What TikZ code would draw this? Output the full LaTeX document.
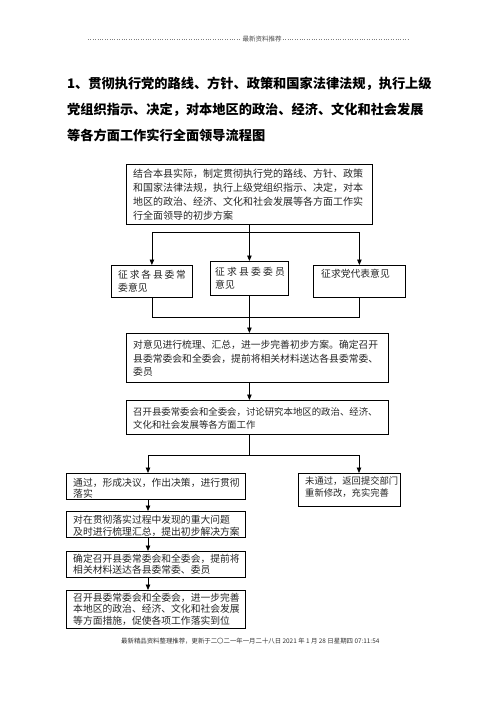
\documentclass[tikz,border=0pt]{standalone}
\usepackage{fontspec}
\setmainfont{Noto Sans CJK SC}
\usetikzlibrary{arrows.meta}
\tikzset{
  boxst/.style={draw=black, line width=0.8pt, inner sep=0pt, anchor=north west, rectangle},
  txtst/.style={anchor=north west, inner sep=0pt, align=left, text=black!85},
  ttlst/.style={anchor=base west, inner sep=0pt, font=\bfseries\fontsize{13.2}{13.2}\selectfont},
  ln/.style={line width=0.8pt, draw=black},
  arr/.style={ln, -{Triangle[length=5.5pt,width=4.5pt]}},
  hdrline/.style={gray, dotted, line width=0.4pt},
}
\newcommand{\mybox}[5]{\node[boxst, minimum width=#4pt, minimum height=#5pt] (#1) at (#2,#3) {};}
\newcommand{\myspc}[1]{\hspace{#1pt}}
\begin{document}
\begin{tikzpicture}[x=1pt,y=-1pt]
\fill[white] (0,0) rectangle (496,702);
\useasboundingbox (0,0) rectangle (496,702);
% header
\node[inner sep=1pt, text=black!70, font=\fontsize{6.5}{6.5}\selectfont] (hdr) at (262,39) {最新资料推荐};
\coordinate (hl) at (88,39);
\coordinate (hr) at (408,39);
\draw[hdrline] (hl) -- (hdr.west);
\draw[hdrline] (hdr.east) -- (hr);
% title
\node[ttlst] (t1) at (67,88) {1、贯彻执行党的路线、方针、政策和国家法律法规，执行上级};
\node[ttlst] (t2) at (67,114) {党组织指示、决定，对本地区的政治、经济、文化和社会发展};
\node[ttlst] (t3) at (67,140) {等各方面工作实行全面领导流程图};
% boxes
\mybox{b1}{126}{164}{246}{60}
\node[txtst, font=\fontsize{10}{14}\selectfont] (b1t) at ([xshift=7pt,yshift=-5pt]b1.north west) {结合本县实际，制定贯彻执行党的路线、方针、政策\\和国家法律法规，执行上级党组织指示、决定，对本\\地区的政治、经济、文化和社会发展等各方面工作实\\行全面领导的初步方案};
\mybox{sa}{111}{265}{81}{32}
\node[txtst, font=\fontsize{9.8}{13}\selectfont] (sat) at ([xshift=7pt,yshift=-5pt]sa.north west) {征\myspc{1.8}求\myspc{1.8}各\myspc{1.8}县\myspc{1.8}委\myspc{1.8}常\\委意见};
\mybox{sb}{210}{261}{78}{34}
\node[txtst, font=\fontsize{9.8}{13}\selectfont] (sbt) at ([xshift=5pt,yshift=-6pt]sb.north west) {征\myspc{2.2}求\myspc{2.2}县\myspc{2.2}委\myspc{2.2}委\myspc{2.2}员\\意见};
\mybox{sc}{313}{265}{92}{32}
\node[txtst, font=\fontsize{9.8}{13}\selectfont] (sct) at ([xshift=8pt,yshift=-4pt]sc.north west) {征求党代表意见};
\mybox{b4}{126}{333}{262}{49}
\node[txtst, font=\fontsize{9.8}{13.5}\selectfont] (b4t) at ([xshift=7pt,yshift=-7pt]b4.north west) {对意见进行梳理、汇总，进一步完善初步方案。确定召开\\县委常委会和全委会，提前将相关材料送达各县委常委、\\委员};
\mybox{b5}{126}{400}{262}{34}
\node[txtst, font=\fontsize{9.4}{13}\selectfont] (b5t) at ([xshift=7pt,yshift=-7pt]b5.north west) {召开县委常委会和全委会，讨论研究本地区的政治、经济、\\文化和社会发展等各方面工作};
\mybox{b6}{66}{473}{179}{26}
\node[txtst, font=\fontsize{9.8}{11.5}\selectfont] (b6t) at ([xshift=7pt,yshift=-5pt]b6.north west) {通过，形成决议，作出决策，进行贯彻\\落实};
\mybox{b7}{298}{473}{102}{33}
\node[txtst, font=\fontsize{9.3}{12.5}\selectfont] (b7t) at ([xshift=7pt,yshift=-3pt]b7.north west) {未通过，返回提交部门\\重新修改，充实完善};
\mybox{b8}{66}{511}{179}{26}
\node[txtst, font=\fontsize{9.8}{11.5}\selectfont] (b8t) at ([xshift=7pt,yshift=-4pt]b8.north west) {对在贯彻落实过程中发现的重大问题\\及时进行梳理汇总，提出初步解决方案};
\mybox{b9}{66}{551}{179}{26}
\node[txtst, font=\fontsize{9.8}{11.5}\selectfont] (b9t) at ([xshift=7pt,yshift=-2.5pt]b9.north west) {确定召开县委常委会和全委会，提前将\\相关材料送达各县委常委、委员};
\mybox{b10}{66}{590}{179}{38}
\node[txtst, font=\fontsize{9.8}{11.5}\selectfont] (b10t) at ([xshift=7pt,yshift=-2.5pt]b10.north west) {召开县委常委会和全委会，进一步完善\\本地区的政治、经济、文化和社会发展\\等方面措施，促使各项工作落实到位};
% footer
\node[anchor=west, inner sep=0pt, text=black!80, font=\fontsize{6.4}{6.4}\selectfont] (ftr) at (121,641) {最新精品资料整理推荐，更新于二〇二一年一月二十八日 2021 年 1 月 28 日星期四 07:11:54};
% connectors
\path (b1.south) ++(0,8) coordinate (j1);
\draw[ln] (b1.south) -- (j1);
\draw[arr] (j1) -- (sb.north);
\draw[arr] (j1) -| (sa.north);
\draw[arr] (j1) -| (sc.north);
\path (sb.south) ++(0,22) coordinate (j2);
\draw[ln] (sa.south) |- (j2) -| (sc.south);
\draw[arr] (sb.south) -- (sb.south |- b4.north);
\draw[arr] (sb.south |- b4.south) -- (sb.south |- b5.north);
\path (sb.south |- b5.south) ++(0,21) coordinate (j3);
\draw[ln] (sb.south |- b5.south) -- (j3);
\draw[arr] (j3) -| ([xshift=82pt]b6.north west);
\draw[arr] (j3) -| ([xshift=61pt]b7.north west);
\draw[arr] ([xshift=82pt]b6.south west) -- ([xshift=82pt]b8.north west);
\draw[arr] ([xshift=82pt]b8.south west) -- ([xshift=82pt]b9.north west);
\draw[arr] ([xshift=82pt]b9.south west) -- ([xshift=82pt]b10.north west);
\end{tikzpicture}
\end{document}
